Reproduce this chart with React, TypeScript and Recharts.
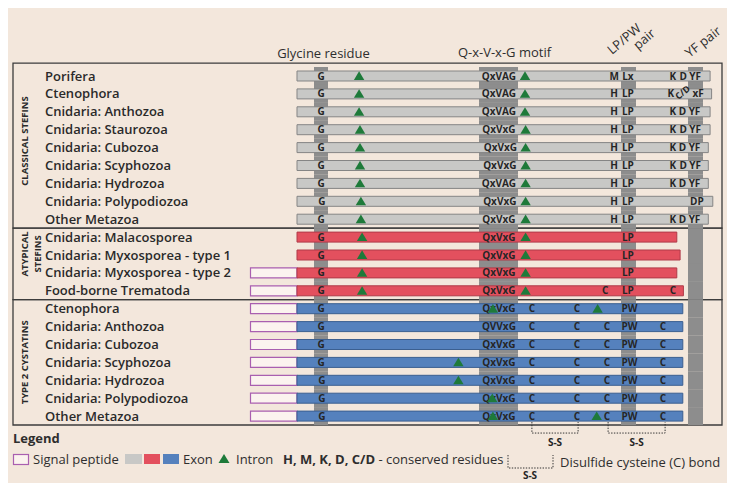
import React from 'react';
import { ComposedChart, Bar, Cell, XAxis, YAxis, Scatter, ReferenceArea, ReferenceLine } from 'recharts';

const FONT = '"Open Sans", "DejaVu Sans", sans-serif';
const BG = '#f3e7dc';
const INK = '#262626';
const COLUMN_GRAY = '#8d8d8d';
const EXON_HEIGHT = 10;

// ---- rows ----
const rowNames = [
  'Porifera', 'Ctenophora', 'Cnidaria: Anthozoa', 'Cnidaria: Staurozoa', 'Cnidaria: Cubozoa',
  'Cnidaria: Scyphozoa', 'Cnidaria: Hydrozoa', 'Cnidaria: Polypodiozoa', 'Other Metazoa',
  'Cnidaria: Malacosporea', 'Cnidaria: Myxosporea - type 1', 'Cnidaria: Myxosporea - type 2', 'Food-borne Trematoda',
  'Ctenophora', 'Cnidaria: Anthozoa', 'Cnidaria: Cubozoa', 'Cnidaria: Scyphozoa', 'Cnidaria: Hydrozoa',
  'Cnidaria: Polypodiozoa', 'Other Metazoa',
];
const rowGroups = [
  'classical', 'classical', 'classical', 'classical', 'classical', 'classical', 'classical', 'classical', 'classical',
  'atypical', 'atypical', 'atypical', 'atypical',
  'type2', 'type2', 'type2', 'type2', 'type2', 'type2', 'type2',
];
// exon end position (alignment units); all exons start at 0
const exonEnd = [
  137.7, 138.2, 137.7, 137.7, 137.1, 137.1, 137.1, 138.6, 137.1,
  126.6, 127.7, 126.6, 128.8,
  128.6, 128.6, 128.6, 128.6, 128.6, 128.6, 128.6,
];
// signal peptide start (ends at 0); null = none
const signalStart: (number | null)[] = [
  null, null, null, null, null, null, null, null, null,
  null, null, -15.5, -15.5,
  -15.5, -15.5, -15.5, -15.5, -15.5, -15.5, -15.5,
];

// ---- conserved residues per row: [position, text] ----
const residueRows: [number, string][][] = [
  [[8, 'G'], [67.3, 'QxVAG'], [105.7, 'M'], [110.3, 'Lx'], [125.3, 'K'], [128.7, 'D'], [132.7, 'YF']],
  [[8, 'G'], [67.3, 'QxVAG'], [105.7, 'H'], [110.3, 'LP'], [124.6, 'K'], [129.2, 'C/D'], [133.7, 'xF']],
  [[8, 'G'], [67.3, 'QxVAG'], [105.7, 'H'], [110.3, 'LP'], [125.3, 'K'], [128.5, 'D'], [132.5, 'YF']],
  [[8, 'G'], [67.3, 'QxVxG'], [105.7, 'H'], [110.3, 'LP'], [125.3, 'K'], [128.7, 'D'], [132.7, 'YF']],
  [[8, 'G'], [67.8, 'QxVxG'], [105.7, 'H'], [110.3, 'LP'], [125.3, 'K'], [128.5, 'D'], [132.5, 'YF']],
  [[8, 'G'], [67.6, 'QxVxG'], [105.7, 'H'], [110.3, 'LP'], [125.3, 'K'], [128.7, 'D'], [132.7, 'YF']],
  [[8, 'G'], [67.3, 'QxVAG'], [105.7, 'H'], [110.3, 'LP'], [125.3, 'K'], [128.5, 'D'], [132.5, 'YF']],
  [[8.3, 'G'], [67.6, 'QxVxG'], [105.7, 'H'], [110.3, 'LP'], [133.3, 'DP']],
  [[8, 'G'], [67.3, 'QxVxG'], [105.7, 'H'], [110.3, 'LP'], [125.3, 'K'], [128.5, 'D'], [132.5, 'YF']],
  [[8, 'G'], [67.3, 'QxVxG'], [110.3, 'LP']],
  [[8, 'G'], [67.3, 'QxVxG'], [110.3, 'LP']],
  [[8, 'G'], [67.3, 'QxVxG'], [110.3, 'LP']],
  [[8, 'G'], [67.3, 'QxVxG'], [102.7, 'C'], [110.3, 'LP'], [125.3, 'C']],
  [[8, 'G'], [67.3, 'QxVxG'], [78.3, 'C'], [93.3, 'C'], [110.8, 'PW']],
  [[8, 'G'], [67.3, 'QVVxG'], [78.3, 'C'], [93.3, 'C'], [103.3, 'C'], [110.8, 'PW'], [122, 'C']],
  [[8, 'G'], [67.3, 'QxVxG'], [78.3, 'C'], [93.3, 'C'], [103.3, 'C'], [110.8, 'PW'], [122, 'C']],
  [[8, 'G'], [67.3, 'QxVxG'], [78.3, 'C'], [93.3, 'C'], [103.3, 'C'], [110.8, 'PW'], [122, 'C']],
  [[8.3, 'G'], [67.3, 'QxVxG'], [78.3, 'C'], [93.3, 'C'], [103.3, 'C'], [110.8, 'PW'], [122, 'C']],
  [[8.3, 'G'], [67.3, 'QxVxG'], [78.3, 'C'], [93.3, 'C'], [103.3, 'C'], [110.8, 'PW'], [122, 'C']],
  [[8.3, 'G'], [67.3, 'QxVxG'], [78.3, 'C'], [93.3, 'C'], [103.3, 'C'], [110.8, 'PW'], [122, 'C']],
];

// ---- intron positions per row ----
const intronRows: number[][] = [
  [20.7, 76], [20.7, 76], [20.7, 76], [21, 76.2], [21, 76.2], [21, 76.2], [21, 76.2], [21.3, 76.2], [21.3, 76.2],
  [21.7, 76.2], [21.7, 76.2], [21.7, 76.2], [21.7, 76.2],
  [65.3, 100.2], [], [], [53.8], [53.8], [65.1], [65.3, 99.9],
];

// ---- disulfide bonds (C-C), drawn under the last row ----
const disulfideBonds = [
  { row: 19, from: 78.3, to: 93.7 },
  { row: 19, from: 103.7, to: 122.7 },
];

// ---- conserved columns ----
const motifColumns = [
  { name: 'Glycine residue', from: 5.67, to: 10.33 },
  { name: 'Q-x-V-x-G motif', from: 60.67, to: 73.67 },
  { name: 'LP/PW pair', from: 108, to: 113 },
  { name: 'YF pair', from: 130.33, to: 135.33 },
];

const sections = [
  { lines: ['CLASSICAL STEFINS'], from: -0.72, to: 8.5 },
  { lines: ['ATYPICAL', 'STEFINS'], from: 8.5, to: 12.5 },
  { lines: ['TYPE 2 CYSTATINS'], from: 12.5, to: 19.5 },
];

const groupColors: Record<string, { fill: string; stroke: string }> = {
  classical: { fill: '#c8c8c6', stroke: '#858585' },
  atypical: { fill: '#e3505e', stroke: '#b03a48' },
  type2: { fill: '#5581bd', stroke: '#3b5f90' },
};

const X_MIN = -284 / 3;
const X_MAX = 425 / 3;

// stacked segments that draw the conserved columns (gap, column, gap, column, ...)
const columnSegments = motifColumns.flatMap((c, i) => [
  { key: 'gap' + i, value: c.from - (i === 0 ? 0 : motifColumns[i - 1].to), col: -1 },
  { key: 'col' + i, value: c.to - c.from, col: i },
]);

const rowIds = rowNames.map((_, i) => 'r' + i);
const barData = rowNames.map((name, i) => {
  const d: any = {
    row: rowIds[i],
    sp: signalStart[i] === null ? 0 : (signalStart[i] as number),
    exon: exonEnd[i],
  };
  columnSegments.forEach((s) => { d[s.key] = s.value; });
  return d;
});
const residueData = residueRows.flatMap((list, row) => list.map(([pos, text]) => ({ x: pos, y: row, text })));
const intronData = intronRows.flatMap((list, row) => list.map((pos) => ({ x: pos, y: row })));

// column piece: leaves a hole where the exon bar of that row passes through the column
const ColumnShape = (colIdx: number) => (props: any) => {
  const { x, y, width, height, payload } = props;
  if (colIdx < 0 || !(width > 0) || !(height > 0)) return <g />;
  const covered = payload.exon >= motifColumns[colIdx].to;
  if (!covered) return <rect x={x} y={y} width={width} height={height} fill={COLUMN_GRAY} />;
  const cy = y + height / 2;
  const h1 = cy - EXON_HEIGHT / 2 - y;
  return (
    <g>
      <rect x={x} y={y} width={width} height={h1 + 0.6} fill={COLUMN_GRAY} />
      <rect x={x} y={cy + EXON_HEIGHT / 2 - 0.6} width={width} height={h1 + 0.6} fill={COLUMN_GRAY} />
    </g>
  );
};

const RowTick = (props: any) => {
  const idx = rowIds.indexOf(props.payload.value);
  return (
    <text x={37} y={props.y} dy={4.6} fontFamily={FONT} fontSize={13} fontWeight={600} fill="#2a2a2a">
      {rowNames[idx]}
    </text>
  );
};

const ResidueShape = (props: any) => {
  const { cx, cy, payload } = props;
  if (payload.text === 'C/D') {
    return (
      <text transform={`translate(${cx},${cy + 1}) rotate(-40)`} textAnchor="middle" fontFamily={FONT}
        fontSize={9} fontWeight={700} fill={INK}>C/D</text>
    );
  }
  return (
    <text x={cx} y={cy + 3.6} textAnchor="middle" fontFamily={FONT} fontSize={10} fontWeight={700} fill={INK}>
      {payload.text}
    </text>
  );
};

const IntronShape = (props: any) => {
  const { cx, cy } = props;
  return <path d={`M${cx - 5.2},${cy + 4} L${cx + 5.2},${cy + 4} L${cx},${cy - 4.6} Z`} fill="#1e7a3a" />;
};

const BracketShape = (props: any) => {
  const { x1, y1, x2 } = props;
  return (
    <g>
      <path d={`M${x1},${y1 + 6} V${y1 + 17} H${x2} V${y1 + 6}`} fill="none" stroke="#333" strokeWidth={1}
        strokeDasharray="1.4 1.4" />
      <text x={(x1 + x2) / 2} y={y1 + 30} textAnchor="middle" fontFamily={FONT} fontSize={10} fontWeight={700}
        fill={INK}>S-S</text>
    </g>
  );
};

const HeaderLabel = (idx: number) => (props: any) => {
  const vb = props.viewBox;
  const cx = vb.x + vb.width / 2;
  const top = vb.y;
  const common = { fontFamily: FONT, fontSize: 13, fill: '#2e2e2e' };
  const name = motifColumns[idx].name;
  if (idx === 0) return <text x={cx + 2.5} y={top - 9} textAnchor="middle" {...common}>{name}</text>;
  if (idx === 1) return <text x={cx + 6} y={top - 10} textAnchor="middle" {...common}>{name}</text>;
  if (idx === 2) {
    const [a, b] = name.split(' ');
    return (
      <g transform={`translate(${cx - 16.5},${top - 12}) rotate(-40)`}>
        <text x={0} y={0} {...common}>{a}</text>
        <text x={23} y={13} {...common}>{b}</text>
      </g>
    );
  }
  return (
    <g transform={`translate(${cx - 6},${top - 9}) rotate(-38)`}>
      <text x={0} y={0} {...common}>{name}</text>
    </g>
  );
};

const SectionLabel = (idx: number, dy: number) => (props: any) => {
  const vb = props.viewBox;
  const cy = vb.y + vb.height / 2 + dy;
  const lines = sections[idx].lines;
  return (
    <g>
      {lines.map((l, i) => (
        <text key={i} transform={`translate(${vb.x + 11.5 + i * 12.5},${cy}) rotate(-90)`} textAnchor="middle"
          dominantBaseline="central" fontFamily={FONT} fontSize={9.5} fontWeight={700} fill="#2a2a2a">{l}</text>
      ))}
    </g>
  );
};

const sectionDy = [-4.5, -10, 0];

const Legend = () => {
  const t = { fontFamily: FONT, fontSize: 13, fill: '#2e2e2e' };
  return (
    <svg width={721} height={475} style={{ position: 'absolute', left: 0, top: 0, pointerEvents: 'none' }}>
      <text x={5} y={435} {...t} fontWeight={700}>Legend</text>
      <rect x={5.5} y={446.5} width={15} height={10} fill="#fbf3ef" stroke="#a95fb0" strokeWidth={1.2} />
      <text x={25} y={456} {...t}>Signal peptide</text>
      <rect x={117} y={446} width={17} height={10} fill={groupColors.classical.fill} />
      <rect x={136} y={446} width={16} height={10} fill={groupColors.atypical.fill} />
      <rect x={155} y={446} width={16} height={10} fill={groupColors.type2.fill} />
      <text x={175} y={456} {...t}>Exon</text>
      <path d="M210.5,455 L221.5,455 L216,446 Z" fill="#1e7a3a" />
      <text x={228} y={456} {...t}>Intron</text>
      <text x={275} y={456} {...t}>
        <tspan fontWeight={700}>H, M, K, D, C/D</tspan>
        <tspan> - conserved residues</tspan>
      </text>
      <path d="M500,447 V460 H545 V447" fill="none" stroke="#333" strokeWidth={1} strokeDasharray="1.4 1.4" />
      <text x={522} y={471} textAnchor="middle" fontFamily={FONT} fontSize={10} fontWeight={700} fill={INK}>S-S</text>
      <text x={552} y={459} {...t}>Disulfide cysteine (C) bond</text>
    </svg>
  );
};

export default function App() {
  return (
    <div style={{ position: 'relative', width: 721, height: 475, background: BG }}>
      <ComposedChart width={721} height={475} data={barData} layout="vertical" stackOffset="sign"
        barCategoryGap={0} barGap={0} margin={{ top: 59, right: 7, bottom: 58, left: 0 }}>
        <XAxis type="number" dataKey="x" domain={[X_MIN, X_MAX]} allowDataOverflow hide />
        <YAxis yAxisId="cat" type="category" dataKey="row" width={5} axisLine={false} tickLine={false}
          tick={RowTick} interval={0} />
        <YAxis yAxisId="col" type="category" dataKey="row" hide />
        <YAxis yAxisId="num" type="number" dataKey="y" domain={[-0.5, 19.5]} allowDataOverflow hide />

        {columnSegments.map((s) => (
          <Bar key={s.key} yAxisId="col" dataKey={s.key} stackId="columns" fill="none"
            shape={ColumnShape(s.col)} isAnimationActive={false} />
        ))}

        <Bar yAxisId="cat" dataKey="sp" stackId="a" barSize={EXON_HEIGHT} fill="#fbf3ef" stroke="#a95fb0"
          strokeWidth={1.2} isAnimationActive={false} />
        <Bar yAxisId="cat" dataKey="exon" stackId="a" barSize={EXON_HEIGHT} isAnimationActive={false}>
          {barData.map((d, i) => (
            <Cell key={d.row} fill={groupColors[rowGroups[i]].fill} stroke={groupColors[rowGroups[i]].stroke}
              strokeWidth={1} />
          ))}
        </Bar>

        <Scatter yAxisId="num" data={residueData} shape={ResidueShape} isAnimationActive={false} />
        <Scatter yAxisId="num" data={intronData} shape={IntronShape} isAnimationActive={false} />

        {motifColumns.map((c, i) => (
          <ReferenceArea key={c.name} yAxisId="num" x1={c.from} x2={c.to} y1={-0.5} y2={19.5}
            fill="none" stroke="none" ifOverflow="visible" label={HeaderLabel(i)} />
        ))}

        {sections.map((s, i) => (
          <ReferenceArea key={i} yAxisId="num" y1={s.from} y2={s.to} fill="none" stroke="#3c3c3c" strokeWidth={1.3}
            ifOverflow="visible" label={SectionLabel(i, sectionDy[i])} />
        ))}

        {disulfideBonds.map((b, i) => (
          <ReferenceLine key={i} yAxisId="num" segment={[{ x: b.from, y: b.row }, { x: b.to, y: b.row }]}
            shape={BracketShape} ifOverflow="visible" />
        ))}
      </ComposedChart>
      <Legend />
    </div>
  );
}
